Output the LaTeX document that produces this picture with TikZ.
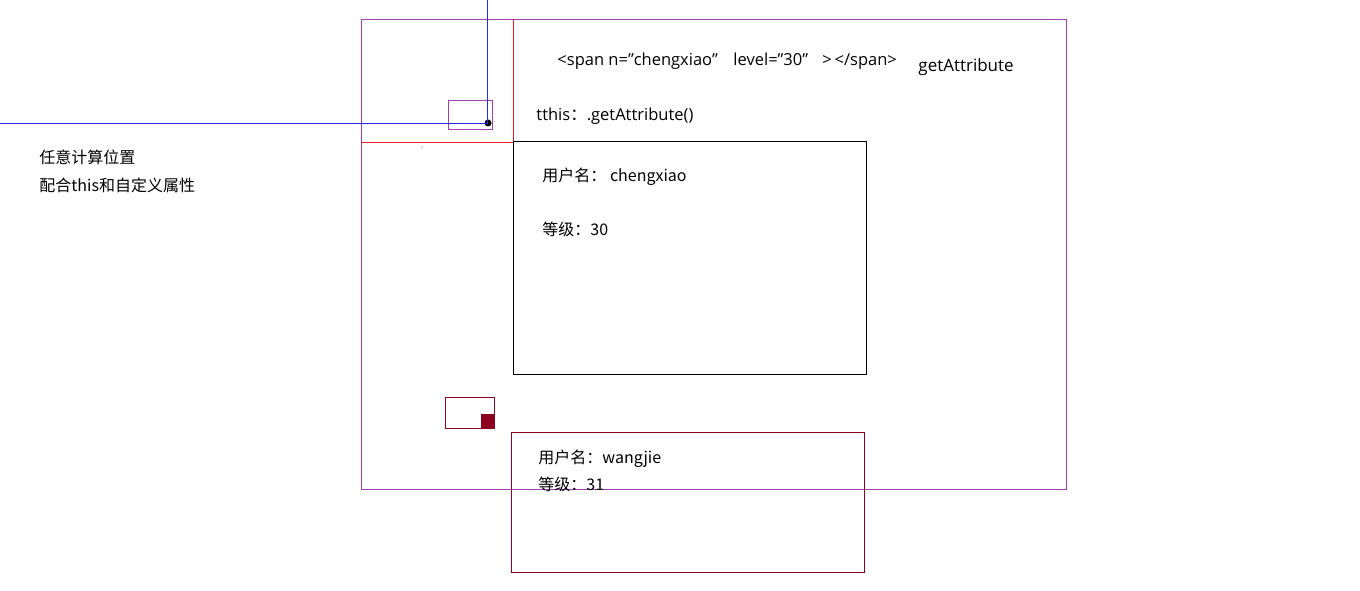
\documentclass[tikz,border=0pt]{standalone}
\usepackage{fontspec}
\setmainfont[Ligatures=ResetAll]{Open Sans}
\newfontfamily\cjk{Noto Sans CJK SC}
\usetikzlibrary{positioning}
\definecolor{outerpurple}{RGB}{160,64,180}
\definecolor{lineblue}{RGB}{40,40,240}
\definecolor{linered}{RGB}{230,30,45}
\definecolor{darkred}{RGB}{140,0,32}
\tikzset{
  txt/.style={anchor=base west,inner sep=0pt,font=\fontsize{16}{19}\selectfont\cjk},
  lat/.style={anchor=base west,inner sep=0pt,font=\fontsize{16.5}{19}\selectfont},
  biglat/.style={lat,font=\fontsize{17}{20}\selectfont},
}

\begin{document}
\begin{tikzpicture}[x=1pt,y=-1pt,line width=0.9pt]
                \useasboundingbox (0,0) rectangle (1360,591);

                \draw[outerpurple] (361,19) rectangle (1066,489);
                \draw[linered] (513,19) -- (513,142) -- (361,142);
                \draw[outerpurple] (448,100) rectangle (492,129);

                \node[circle,fill=black,inner sep=0pt,minimum size=7pt] (dot) at (488,123) {};
                \coordinate (top) at (487,0);
                \coordinate (left) at (0,123);
                \draw[lineblue] (top) -- (top|-dot.center);
                \draw[lineblue] (left) -- (dot.center);
                \fill (422,147) circle (0.5pt);

                \draw[black] (513,141) rectangle (866,374);
                \draw[darkred] (445,397) rectangle (494,428);
                \fill[darkred] (481,414) rectangle (495,428);
                \draw[darkred] (511,432) rectangle (864,572);

                % span line
                \node[lat] (span) at (557,66) {<span n="chengxiao"};
                \node[lat] (level) at (733,66) {level="30"};
                \node[lat] (close) at (822,66) {>\,</span>};
                \node[biglat] (get) at (918,72) {getAttribute};
                \node[lat] (this) at (536,121) {tthis{\cjk ：}.getAttribute()};

                \node[txt] (user1) at (542,181) {用户名： chengxiao};
                \node[txt] (level1) at (542,235) {等级：30};
                \node[txt] (user2) at (538,463) {用户名：wangjie};
                \node[txt] (level2) at (538,490) {等级：31};
                \node[txt] (note1) at (39,164) {任意计算位置};
                \node[txt] (note2) at (39,191) {配合this和自定义属性};
            \end{tikzpicture}
\end{document}
